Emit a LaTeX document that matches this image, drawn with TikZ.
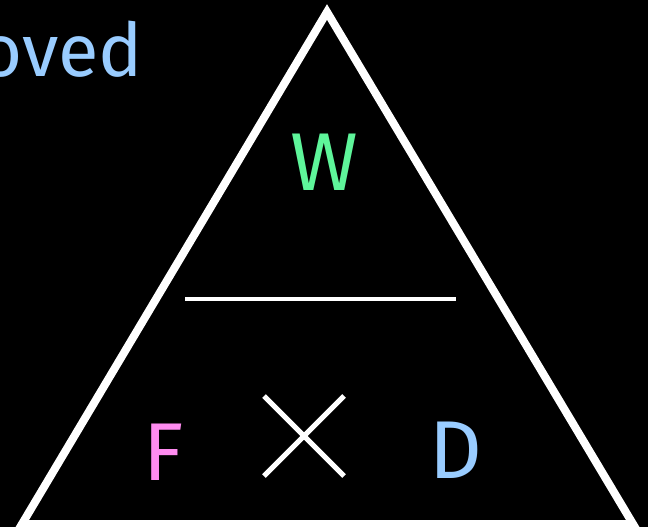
\documentclass[tikz,border=0pt]{standalone}
\usepackage{fontspec}
\setmainfont{Fira Sans}
\definecolor{lblue}{HTML}{99CCFF}
\definecolor{mgreen}{HTML}{5EF59A}
\definecolor{lpink}{HTML}{FF8CF0}
\begin{document}
\begin{tikzpicture}[x=1pt,y=-1pt,
  lbl/.style={inner sep=0pt,anchor=base,font=\fontsize{82}{82}\selectfont}]
\fill[black] (0,0) rectangle (648,527);
\useasboundingbox (0,0) rectangle (648,527);
\coordinate (apex) at (327,12);
\coordinate (bl) at (22,524);
\coordinate (br) at (633,524);
\draw[white,line width=8pt,line join=miter] (apex) -- (br) -- (bl) -- cycle;
\coordinate (h1) at (185,299);
\coordinate (h2) at (456,299);
\draw[white,line width=4.5pt] (h1) -- (h2);
\coordinate (x1) at (264,396);
\coordinate (x2) at (344,476);
\coordinate (x3) at (344,396);
\coordinate (x4) at (264,476);
\draw[white,line width=5pt] (x1) -- (x2) (x3) -- (x4);
\node[lbl,text=mgreen] (w) at (324,190) {W};
\node[lbl,text=lpink] (f) at (164,480) {F};
\node[lbl,text=lblue] (d) at (456,478) {D};
\node[inner sep=0pt,anchor=base east,text=lblue,font=\fontsize{74}{74}\selectfont] (moved) at (143,77) {moved};
\end{tikzpicture}
\end{document}
